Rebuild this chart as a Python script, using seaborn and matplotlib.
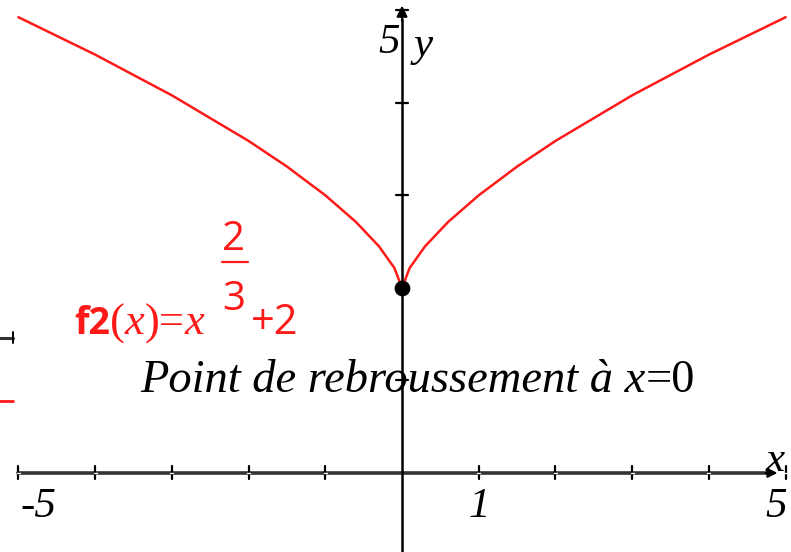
import numpy as np
import pandas as pd
import seaborn as sns
import matplotlib.pyplot as plt

# Sample abscissas for f2(x) = x^(2/3) + 2 (coarse, calculator-like sampling)
x_samples = [-5.0, -4.0, -3.0, -2.0, -1.5, -1.0, -0.6, -0.3, -0.1, 0.0,
             0.1, 0.3, 0.6, 1.0, 1.5, 2.0, 3.0, 4.0, 5.0]
exp_num, exp_den = 2, 3
shift = 2
x_ticks = [-5, -4, -3, -2, -1, 1, 2, 3, 4, 5]
y_ticks = [1, 2, 3, 4, 5]
x_tick_labels = {-5: "-5", 1: "1", 5: "5"}
cusp = (0.0, 2.0)

xs = np.array(x_samples)
ys = np.abs(np.cbrt(xs)) ** exp_num + shift
df = pd.DataFrame({"x": xs, "y": ys})

sns.set_style("white")
fig = plt.figure(figsize=(7.91, 5.52), dpi=100)
ax = fig.add_axes([0, 0, 1, 1])
ax.set_xlim(-5.24, 5.07)
ax.set_ylim(-0.854, 5.11)
ax.axis("off")

red = "#ff1a1a"
serif = ["Liberation Serif", "DejaVu Serif"]
sans = ["Open Sans", "DejaVu Sans"]

# axes
ax.plot([-5, 4.75], [0, 0], color="#333333", lw=2.6, zorder=2)
ax.annotate("", xy=(4.93, 0), xytext=(4.7, 0),
            arrowprops=dict(arrowstyle="-|>", color="black", lw=1.5, mutation_scale=14))
ax.plot([0, 0], [-0.9, 4.9], color="black", lw=1.8, zorder=2)
ax.annotate("", xy=(0, 5.08), xytext=(0, 4.85),
            arrowprops=dict(arrowstyle="-|>", color="black", lw=1.5, mutation_scale=16))

tx = 0.07
for t in x_ticks:
    ax.plot([t, t], [-tx, tx], color="black", lw=1.6, zorder=3)
    ax.plot([t - 0.02, t + 0.02], [0, 0], color="white", lw=1.0, zorder=3.5)
ty = 0.08
for t in y_ticks:
    ax.plot([-ty, ty], [t, t], color="black", lw=1.6, zorder=3)

# curve and cusp point
sns.lineplot(data=df, x="x", y="y", color=red, lw=1.8, ax=ax,
             zorder=4, sort=False, legend=False)
sns.scatterplot(x=[cusp[0]], y=[cusp[1]], color="black", s=110, ax=ax,
                zorder=5, legend=False, edgecolor="black")

tick_style = dict(fontsize=31, style="italic", family=serif, color="black",
                  va="center")
ax.text(-4.98, -0.36, x_tick_labels[-5], ha="left", **tick_style)
ax.text(1.0, -0.36, x_tick_labels[1], ha="center", **tick_style)
ax.text(4.88, -0.36, x_tick_labels[5], ha="center", **tick_style)
ax.text(-0.17, 4.65, "5", ha="center", **tick_style)
ax.text(0.27, 4.62, "y", ha="center", **tick_style)
ax.text(4.86, 0.13, "x", ha="center", **tick_style)

fig.canvas.draw()
renderer = fig.canvas.get_renderer()


def chain(x0_px, y_data, pieces):
    """Place text pieces one after another, starting at pixel x0_px."""
    x_px = x0_px
    for s, kw in pieces:
        xd = ax.transData.inverted().transform((x_px, 0))[0]
        t = ax.text(xd, y_data, s, ha="left", va="baseline", **kw)
        x_px = t.get_window_extent(renderer).x1
    return x_px


# sentence
sent_it = dict(fontsize=33.5, style="italic", family=serif, color="black")
sent_rm = dict(fontsize=33.5, family=serif, color="black")
chain(140, 0.88, [("Point de rebroussement à x", sent_it), ("=0", sent_rm)])

# function label
by = 1.50
f_bold = dict(fontsize=27, weight="bold", family=sans, color=red)
f_it = dict(fontsize=32, style="italic", family=serif, color=red)
f_rm = dict(fontsize=32, family=serif, color=red)
chain(74, by, [("f2", f_bold), ("(", f_rm), ("x", f_it), (")=", f_rm), ("x", f_it)])
ax.text(-2.19, 2.52, "2", fontsize=29, family=sans, color=red,
        ha="center", va="center")
ax.plot([-2.35, -2.01], [2.28, 2.28], color=red, lw=1.6)
ax.text(-2.19, 1.87, "3", fontsize=29, family=sans, color=red,
        ha="center", va="center")
ax.text(-1.97, by, "+2", fontsize=30, family=sans, color=red,
        ha="left", va="baseline")

# fragments at the left border
ax.plot([-5.3, -5.07], [1.46, 1.46], color="#333333", lw=2.2)
ax.plot([-5.07, -5.07], [1.40, 1.52], color="black", lw=1.4)
ax.plot([-5.3, -5.07], [0.78, 0.78], color=red, lw=2.0)

fig.savefig("out.png", dpi=100)
